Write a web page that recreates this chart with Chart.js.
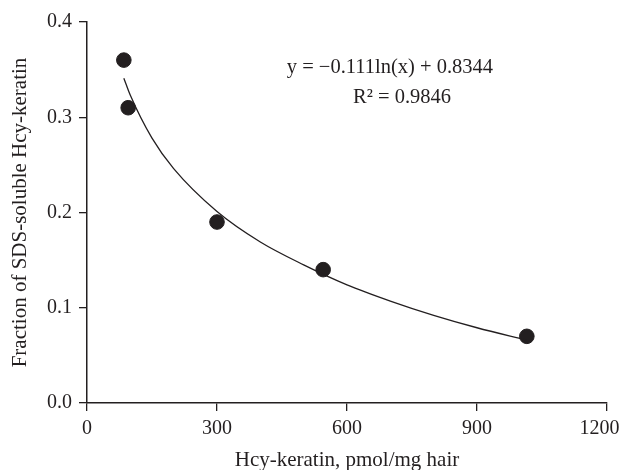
<!DOCTYPE html>
<html>
<head>
<meta charset="utf-8">
<script src="https://cdn.jsdelivr.net/npm/chart.js@4"></script>
<style>
  html, body { margin: 0; padding: 0; background: #fff; }
  #wrap { width: 623px; height: 470px; }
</style>
</head>
<body>
<div id="wrap"><canvas id="grafico"></canvas></div>
<script>
// dati
var hcyKeratin = [85, 95, 300, 545, 1015];
var sdsFraction = [0.36, 0.31, 0.19, 0.14, 0.07];
// punti della curva di tendenza (letti lungo la linea)
var fitX = [85, 100, 150, 200, 300, 400, 500, 600, 700, 800, 900, 1015];
var fitY = [0.341, 0.323, 0.278, 0.246, 0.201, 0.169, 0.145, 0.124, 0.107, 0.092, 0.079, 0.066];
var xTicks = [0, 300, 600, 900, 1200];
var yTicks = [0.0, 0.1, 0.2, 0.3, 0.4];
var eqLines = ['y = \u22120.111ln(x) + 0.8344', 'R\u00B2 = 0.9846'];

var ink = '#231f20';
var serif = "'Liberation Serif', 'DejaVu Serif', serif";

var punti = [];
for (var i = 0; i < hcyKeratin.length; i++) {
    punti.push({x: hcyKeratin[i], y: sdsFraction[i]});
}
var curva = [];
for (var j = 0; j < fitX.length; j++) {
    curva.push({x: fitX[j], y: fitY[j]});
}

// scrive l'equazione della regressione
var equazione = {
    id: 'equazione',
    afterDatasetsDraw: function(chart) {
        var ctx = chart.ctx;
        var sx = chart.scales.x;
        var sy = chart.scales.y;
        ctx.save();
        ctx.fillStyle = ink;
        ctx.font = '20.5px ' + serif;
        ctx.textBaseline = 'middle';
        ctx.textAlign = 'center';
        ctx.fillText(eqLines[0], sx.getPixelForValue(699), sy.getPixelForValue(0.352));
        ctx.fillText(eqLines[1], sx.getPixelForValue(727), sy.getPixelForValue(0.321));
        ctx.restore();
    }
};

var ctx = document.getElementById('grafico').getContext('2d');
var myChart = new Chart(ctx, {
    type: 'scatter',
    data: {
        datasets: [{
            label: 'fit',
            data: curva,
            showLine: true,
            borderColor: ink,
            borderWidth: 1.3,
            pointRadius: 0,
            cubicInterpolationMode: 'monotone',
            fill: false
        }, {
            label: 'Hcy',
            data: punti,
            backgroundColor: ink,
            borderColor: ink,
            pointRadius: 7.3,
            pointHoverRadius: 7.3
        }]
    },
    options: {
        responsive: true,
        maintainAspectRatio: false,
        animation: false,
        layout: { padding: { top: 22, right: 0, left: 0, bottom: -3 } },
        plugins: {
            legend: { display: false },
            tooltip: { enabled: false }
        },
        scales: {
            x: {
                type: 'linear',
                min: 0,
                max: 1200,
                afterBuildTicks: function(scale) {
                    scale.ticks = xTicks.map(function(v) { return {value: v}; });
                },
                afterFit: function(scale) {
                    scale.height = 70;
                    scale.paddingRight = 16;
                },
                grid: { drawOnChartArea: false, color: ink, tickLength: 8, lineWidth: 1.3 },
                border: { color: ink, width: 1.5 },
                ticks: {
                    color: ink,
                    font: { family: serif, size: 20 },
                    padding: 6,
                    maxRotation: 0,
                    // l'ultima etichetta è un po' spostata a sinistra come nell'originale
                    callback: function(v) { return v === 1200 ? '1200\u00a0\u00a0\u00a0' : String(v); }
                },
                title: { display: true, text: 'Hcy-keratin, pmol/mg hair', color: ink, font: { family: serif, size: 21 }, padding: 0 }
            },
            y: {
                type: 'linear',
                min: 0,
                max: 0.4,
                afterBuildTicks: function(scale) {
                    scale.ticks = yTicks.map(function(v) { return {value: v}; });
                },
                afterFit: function(scale) {
                    scale.width = 87;
                },
                grid: { drawOnChartArea: false, color: ink, tickLength: 8, lineWidth: 1.3 },
                border: { color: ink, width: 1.5 },
                ticks: {
                    color: ink,
                    font: { family: serif, size: 20 },
                    padding: 7,
                    callback: function(v) { return Number(v).toFixed(1); }
                },
                title: { display: true, text: 'Fraction of SDS-soluble Hcy-keratin', color: ink, font: { family: serif, size: 21 }, padding: { top: 8, bottom: 0 } }
            }
        }
    },
    plugins: [equazione]
});
</script>
</body>
</html>
